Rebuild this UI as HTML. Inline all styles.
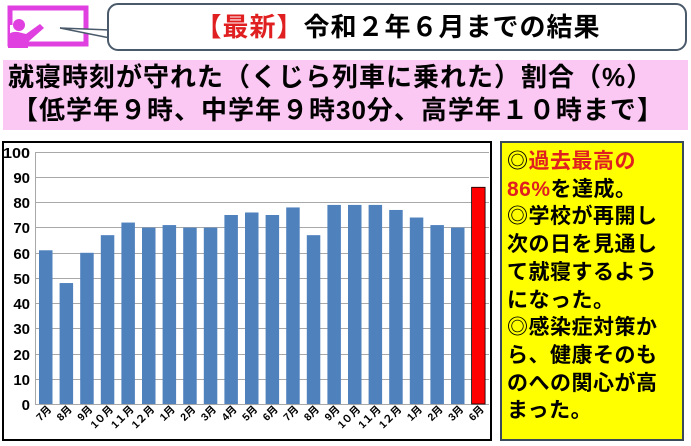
<!DOCTYPE html><html><head><meta charset="utf-8"><style>
body{margin:0;width:691px;height:446px;background:#fff;position:relative;overflow:hidden;font-family:"Liberation Sans","Noto Sans CJK JP",sans-serif;font-weight:bold}
.a{position:absolute}
</style></head><body>
<svg class="a" style="left:0;top:0" width="691" height="446">
<rect x="10" y="8" width="76" height="36" fill="none" stroke="#e040e0" stroke-width="5"/>
<rect x="10" y="25" width="12" height="22" fill="#fff"/>
<circle cx="19" cy="25" r="6" fill="#e040e0"/>
<path d="M8 48 L8 36 Q10 31 18 32 L26 34 L40 24 L44 28 L28 42 L28 48Z" fill="#e040e0"/>
<path d="M110 30 L60 28 L110 38" fill="#fff" stroke="#4a5a6a" stroke-width="1.5"/>
<rect x="108" y="4" width="578" height="46" rx="10" fill="#fff" stroke="#4a5a6a" stroke-width="2"/>
<rect x="109" y="26" width="4" height="10" fill="#fff"/>
<rect x="3" y="60" width="685" height="70" fill="#fbc8f3"/>
<rect x="3" y="142" width="488" height="298" fill="#fff" stroke="#000" stroke-width="2"/>
<g stroke="#a8a8a8" stroke-width="1">
<line x1="35" x2="489" y1="152.5" y2="152.5"/><line x1="35" x2="489" y1="177.5" y2="177.5"/><line x1="35" x2="489" y1="202.5" y2="202.5"/><line x1="35" x2="489" y1="227.5" y2="227.5"/><line x1="35" x2="489" y1="253.5" y2="253.5"/><line x1="35" x2="489" y1="278.5" y2="278.5"/><line x1="35" x2="489" y1="303.5" y2="303.5"/><line x1="35" x2="489" y1="328.5" y2="328.5"/><line x1="35" x2="489" y1="354.5" y2="354.5"/><line x1="35" x2="489" y1="379.5" y2="379.5"/>
<line x1="35.5" x2="35.5" y1="152" y2="404"/><line x1="35" x2="489" y1="404.5" y2="404.5"/>
</g>
<g font-size="15" text-anchor="end" fill="#000" font-family="Liberation Sans, sans-serif" font-weight="bold">
<text x="30" y="158" textLength="27" lengthAdjust="spacingAndGlyphs">100</text><text x="30" y="183">90</text><text x="30" y="208">80</text><text x="30" y="233">70</text><text x="30" y="259">60</text><text x="30" y="284">50</text><text x="30" y="309">40</text><text x="30" y="334">30</text><text x="30" y="360">20</text><text x="30" y="385">10</text><text x="30" y="410">0</text>
</g>
<g id="bars"></g>
<g id="lbl" font-size="10.5" fill="#000"></g>
<rect x="501" y="142" width="182" height="298" fill="#ffff00" stroke="#3a4a5a" stroke-width="2"/>
</svg>
<div class="a" style="left:108px;top:8px;width:580px;text-align:center;font-size:26px;line-height:38px;letter-spacing:1px"><span style="color:#e02020">【最新】</span>令和２年６月までの結果</div>
<div class="a" style="left:8px;top:61px;font-size:26px;line-height:32px;white-space:nowrap;letter-spacing:1px">就寝時刻が守れた（くじら列車に乗れた）割合（%）</div>
<div class="a" style="left:12px;top:94px;font-size:26px;line-height:32px;white-space:nowrap;letter-spacing:1px">【低学年９時、中学年９時30分、高学年１０時まで】</div>
<div class="a" style="left:507px;top:148px;width:178px;font-size:21px;line-height:27.7px;white-space:nowrap;letter-spacing:0.5px">◎<span style="color:#e02020">過去最高の<br>86%</span>を達成。<br>◎学校が再開し<br>次の日を見通し<br>て就寝するよう<br>になった。<br>◎感染症対策か<br>ら、健康そのも<br>のへの関心が高<br>まった。</div>
<script>
var v=[61,48,60,67,72,70,71,70,70,75,76,75,78,67,79,79,79,77,74,71,70,86];
var m=["7月","8月","9月","1０月","1１月","1２月","1月","2月","3月","4月","5月","6月","7月","8月","9月","1０月","1１月","1２月","1月","2月","3月","6月"];
var b="",l="";
for(var i=0;i<22;i++){var x=39+i*20.6,h=v[i]*2.52;
b+='<rect x="'+x+'" y="'+(404-h)+'" width="13.5" height="'+h+'" fill="'+(i==21?'#ff0000':'#4f81bd')+'"'+(i==21?' stroke="#000" stroke-width="0.8"':'')+'/>';
l+='<text transform="translate('+(x+13)+',410) rotate(-45)" text-anchor="end" font-family="Liberation Sans, Noto Sans CJK JP, sans-serif" font-weight="bold">'+m[i]+'</text>';}
document.getElementById("bars").innerHTML=b;document.getElementById("lbl").innerHTML=l;
</script>
</body></html>
